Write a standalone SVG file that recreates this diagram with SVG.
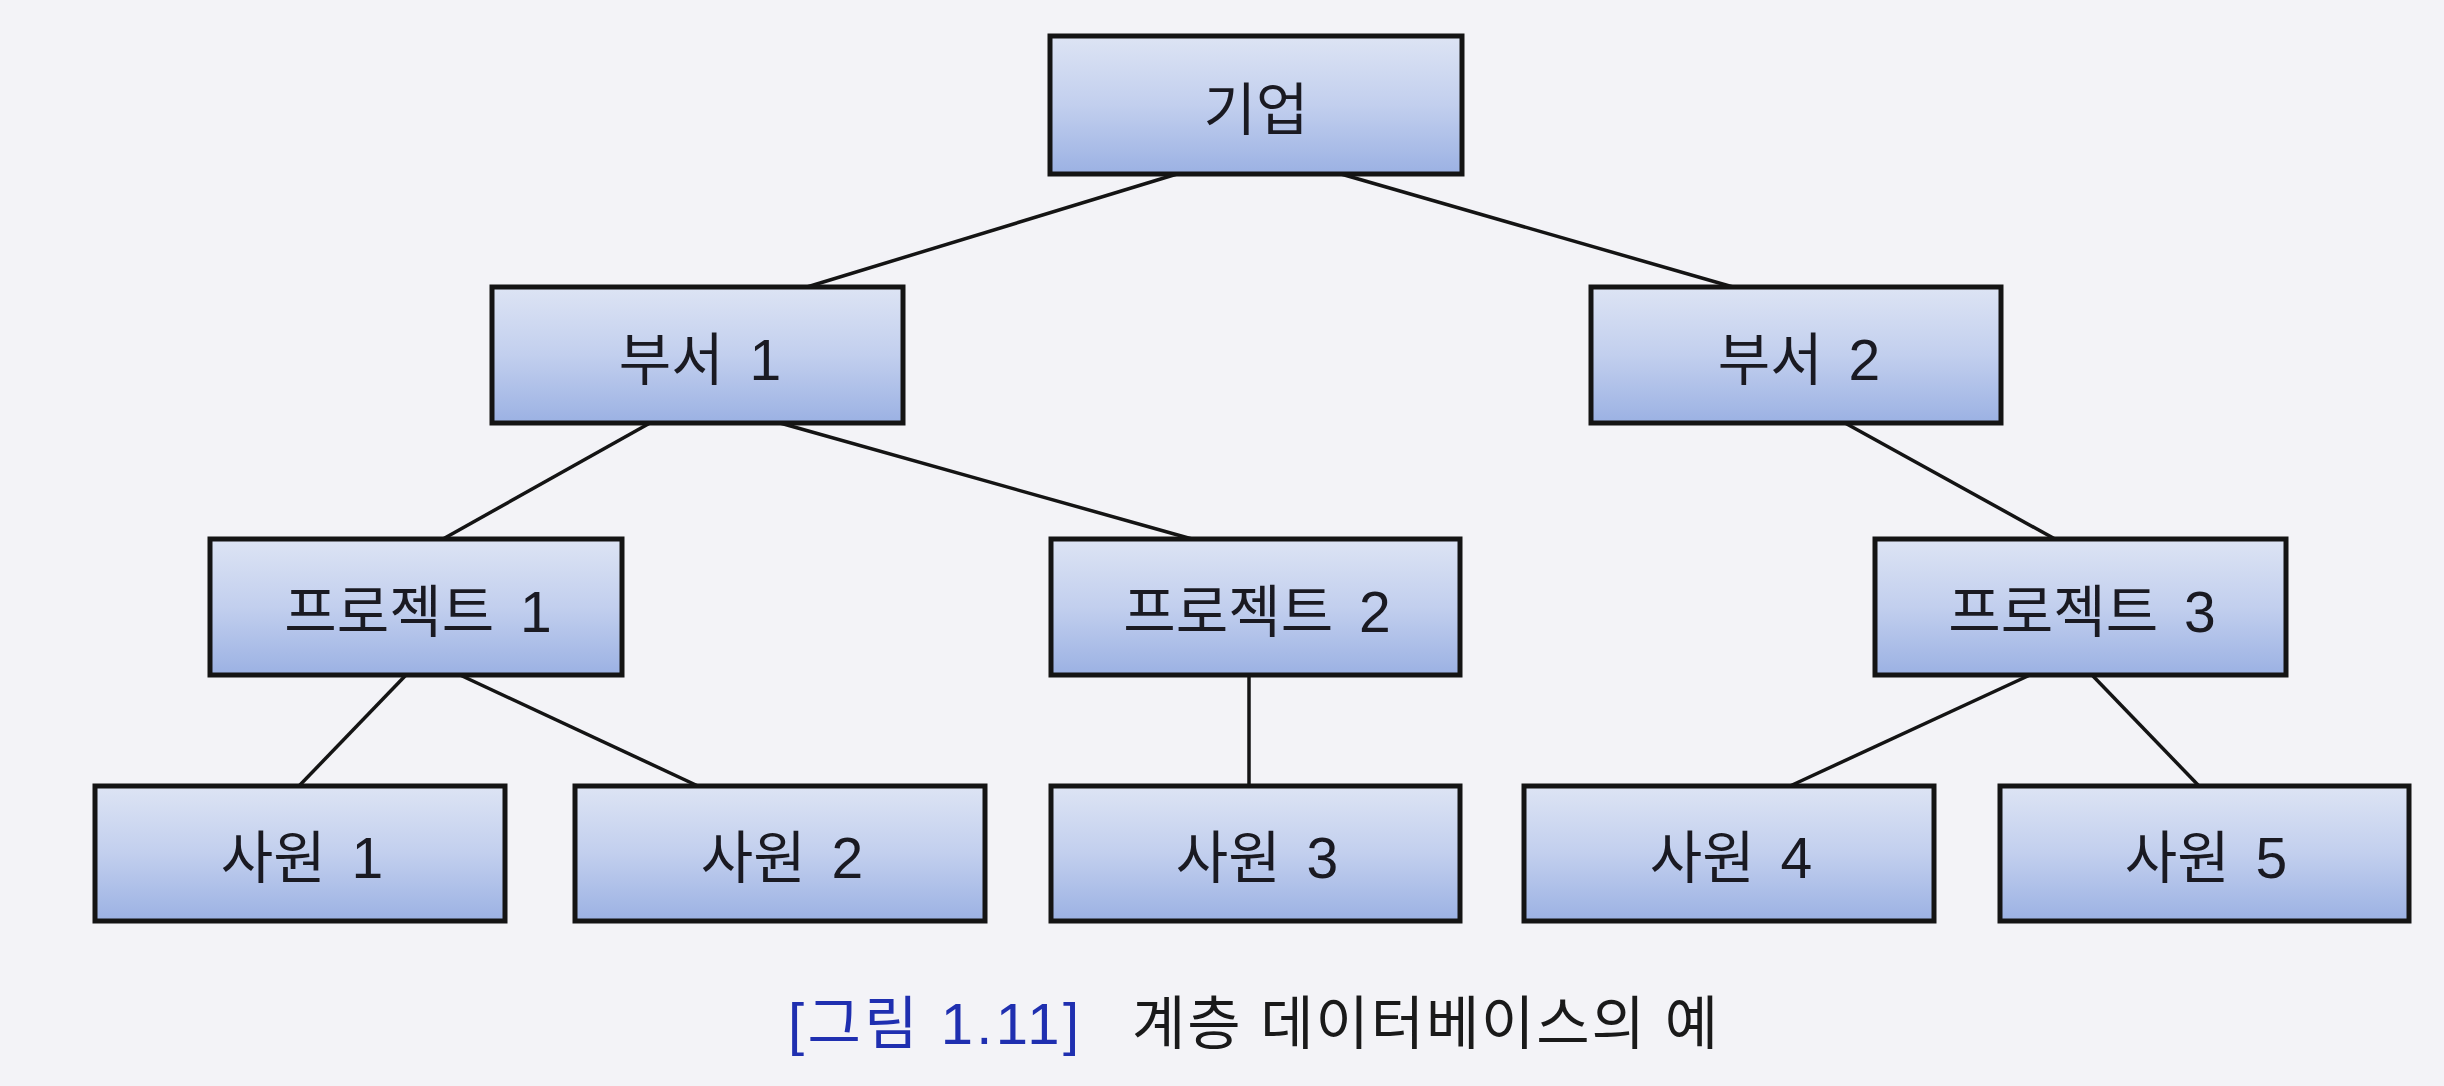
<svg xmlns="http://www.w3.org/2000/svg" width="2444" height="1086" viewBox="0 0 2444 1086">
<defs>
<linearGradient id="g" x1="0" y1="0" x2="0" y2="1">
<stop offset="0" stop-color="#dde4f4"/>
<stop offset="0.5" stop-color="#c2cfee"/>
<stop offset="1" stop-color="#9bb1e3"/>
</linearGradient>
<style>
.box{fill:url(#g);stroke:#141414;stroke-width:5}
.lbl{font-family:"Liberation Sans","Noto Sans CJK KR",sans-serif;font-size:57px;fill:#1a1a22;text-anchor:middle;word-spacing:10px}
.edge{stroke:#141414;stroke-width:3.5;fill:none}
.cap{font-family:"Liberation Sans","Noto Sans CJK KR",sans-serif;font-size:58px}
</style>
</defs>
<rect x="0" y="0" width="2444" height="1086" fill="#f3f3f7"/>
<g id="connectors">
<line class="edge" x1="1177" y1="174" x2="807" y2="287"/>
<line class="edge" x1="1341" y1="174" x2="1733" y2="287"/>
<line class="edge" x1="650" y1="423" x2="443" y2="539"/>
<line class="edge" x1="780" y1="423" x2="1192" y2="539"/>
<line class="edge" x1="1845" y1="423" x2="2055" y2="539"/>
<line class="edge" x1="406" y1="675" x2="299" y2="786"/>
<line class="edge" x1="460" y1="675" x2="698" y2="786"/>
<line class="edge" x1="1249" y1="675" x2="1249" y2="786"/>
<line class="edge" x1="2030" y1="675" x2="1790" y2="786"/>
<line class="edge" x1="2092" y1="675" x2="2199" y2="786"/>
</g>
<g id="n-giup"><rect class="box" x="1050" y="36" width="412" height="138"/><text class="lbl" x="1256" y="130">기업</text></g>
<g id="n-buseo1"><rect class="box" x="492" y="287" width="411" height="136"/><text class="lbl" x="700" y="380">부서 1</text></g>
<g id="n-buseo2"><rect class="box" x="1591" y="287" width="410" height="136"/><text class="lbl" x="1799" y="380">부서 2</text></g>
<g id="n-proj1"><rect class="box" x="210" y="539" width="412" height="136"/><text class="lbl" x="418" y="632">프로젝트 1</text></g>
<g id="n-proj2"><rect class="box" x="1051" y="539" width="409" height="136"/><text class="lbl" x="1257" y="632">프로젝트 2</text></g>
<g id="n-proj3"><rect class="box" x="1875" y="539" width="411" height="136"/><text class="lbl" x="2082" y="632">프로젝트 3</text></g>
<g id="n-emp1"><rect class="box" x="95" y="786" width="410" height="135"/><text class="lbl" x="302" y="878">사원 1</text></g>
<g id="n-emp2"><rect class="box" x="575" y="786" width="410" height="135"/><text class="lbl" x="782" y="878">사원 2</text></g>
<g id="n-emp3"><rect class="box" x="1051" y="786" width="409" height="135"/><text class="lbl" x="1257" y="878">사원 3</text></g>
<g id="n-emp4"><rect class="box" x="1524" y="786" width="410" height="135"/><text class="lbl" x="1731" y="878">사원 4</text></g>
<g id="n-emp5"><rect class="box" x="2000" y="786" width="409" height="135"/><text class="lbl" x="2206" y="878">사원 5</text></g>
<g id="caption">
<text class="cap" x="788" y="1044" fill="#1f2fb0" textLength="291" lengthAdjust="spacing">[그림 1.11]</text>
<text class="cap" x="1132" y="1044" fill="#1a1a1a" textLength="586" lengthAdjust="spacing">계층 데이터베이스의 예</text>
</g>
</svg>
